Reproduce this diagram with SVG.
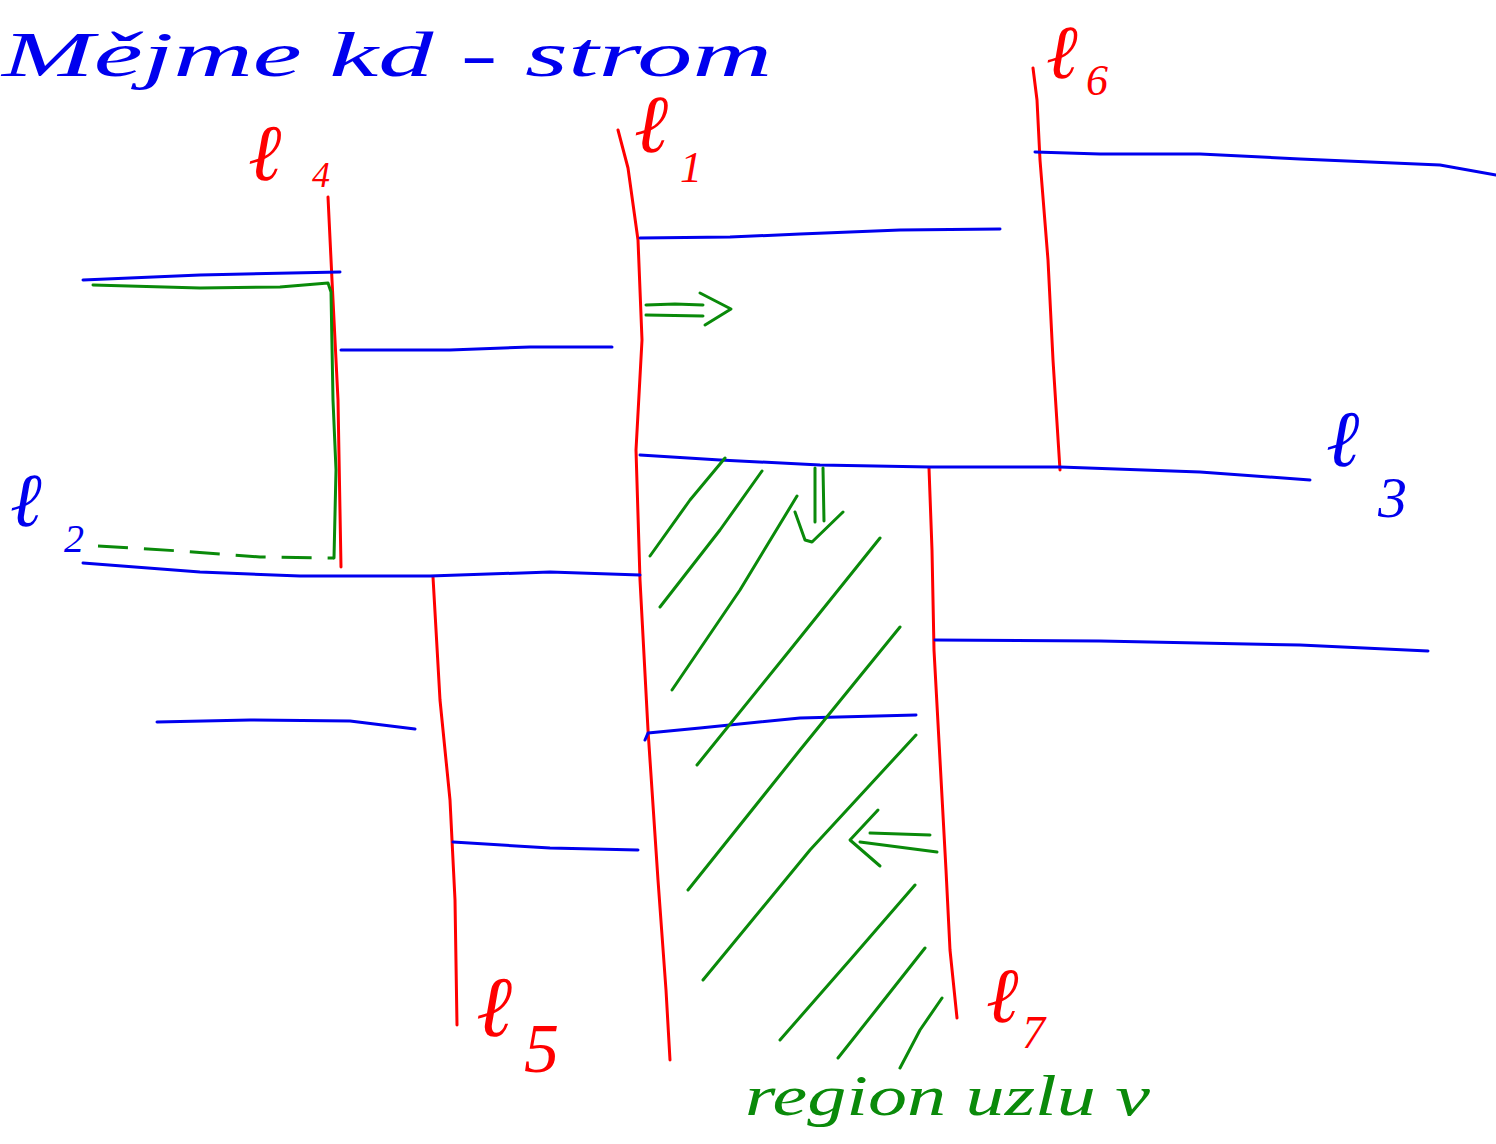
<svg xmlns="http://www.w3.org/2000/svg" width="1496" height="1144" viewBox="0 0 1496 1144">
<style>
.r{fill:none;stroke:#ff0000;stroke-width:3;stroke-linecap:round;stroke-linejoin:round}
.b{fill:none;stroke:#0000ee;stroke-width:3;stroke-linecap:round;stroke-linejoin:round}
.g{fill:none;stroke:#0a8a0a;stroke-width:3;stroke-linecap:round;stroke-linejoin:round}
.gd{fill:none;stroke:#0a8a0a;stroke-width:3;stroke-dasharray:30 16}
.t{font-family:"Liberation Serif",serif;font-style:italic}
.tr{fill:#ff0000}.tb{fill:#0000ee}.tg{fill:#0a8a0a}
</style>
<rect width="1496" height="1144" fill="#ffffff"/>
<g id="title"><text class="t tb" x="2" y="76" font-size="64" textLength="770" lengthAdjust="spacingAndGlyphs">Mějme  kd - strom</text></g>
<g id="splits-red">
<path id="l4" class="r" d="M328,197 L332,280 L338,400 L341,567"/>
<path id="l1" class="r" d="M618,130 L628,168 L638,240 L642,340 L636,450 L640,580 L648,730 L658,880 L666,990 L670,1060"/>
<path id="l6" class="r" d="M1033,68 L1037,100 L1040,160 L1048,260 L1053,360 L1060,470"/>
<path id="l5" class="r" d="M433,577 L440,700 L450,800 L455,900 L457,1025"/>
<path id="l7" class="r" d="M929,468 L932,550 L934,650 L940,760 L946,870 L950,950 L957,1018"/>
</g>
<g id="splits-blue">
<path class="b" d="M1035,152 L1100,154 L1200,154 L1300,159 L1440,165 L1496,175"/>
<path class="b" d="M640,238 L730,237 L800,234 L900,230 L1000,229"/>
<path class="b" d="M83,280 L200,275 L340,272"/>
<path class="b" d="M341,350 L450,350 L530,347 L612,347"/>
<path id="l3" class="b" d="M640,455 L720,460 L820,465 L930,467 L1060,467 L1200,472 L1310,480"/>
<path id="l2" class="b" d="M83,563 L200,572 L300,576 L430,576 L550,572 L640,575"/>
<path class="b" d="M935,640 L1100,641 L1300,645 L1428,651"/>
<path class="b" d="M157,722 L250,720 L350,721 L415,729"/>
<path class="b" d="M645,740 L648,733 L700,728 L800,718 L916,715"/>
<path class="b" d="M453,842 L550,848 L638,850"/>
</g>
<g id="green-marks">
<path class="g" d="M93,285 L200,288 L280,287 L328,283 L331,292 L333,400 L336,470 L334,558"/>
<path class="gd" d="M98,546 L180,551 L260,557 L334,558"/>
<path class="g" d="M646,305 L675,304 L703,305 M646,315 L703,316 M700,293 L731,309 L705,325"/>
<path class="g" d="M815,468 L815,522 M823,468 L824,521 M795,512 L805,540 L812,542 L843,512"/>
<path class="g" d="M870,833 L930,835 M860,842 L937,852 M878,810 L850,840 L880,866"/>
<path class="g" d="M650,556 L690,500 L725,458"/>
<path class="g" d="M660,607 L720,530 L762,471"/>
<path class="g" d="M672,690 L740,590 L797,496"/>
<path class="g" d="M697,765 L790,650 L880,538"/>
<path class="g" d="M688,890 L800,750 L900,627"/>
<path class="g" d="M703,980 L810,850 L916,735"/>
<path class="g" d="M780,1040 L850,960 L915,885"/>
<path class="g" d="M838,1058 L880,1005 L925,948"/>
<path class="g" d="M900,1068 L920,1030 L942,998"/>
</g>
<g id="labels">
<text class="t tr" x="248" y="180" font-size="80">ℓ</text><text class="t tr" x="312" y="187" font-size="36">4</text>
<text class="t tr" x="634" y="152" font-size="82">ℓ</text><text class="t tr" x="680" y="182" font-size="44">1</text>
<text class="t tr" x="1046" y="78" font-size="76">ℓ</text><text class="t tr" x="1086" y="95" font-size="44">6</text>
<text class="t tb" x="10" y="526" font-size="76">ℓ</text><text class="t tb" x="64" y="552" font-size="40">2</text>
<text class="t tb" x="1326" y="466" font-size="80">ℓ</text><text class="t tb" x="1378" y="517" font-size="58">3</text>
<text class="t tr" x="476" y="1036" font-size="86">ℓ</text><text class="t tr" x="524" y="1072" font-size="70">5</text>
<text class="t tr" x="986" y="1022" font-size="78">ℓ</text><text class="t tr" x="1022" y="1048" font-size="46">7</text>
</g>
<g id="caption"><text class="t tg" x="745" y="1115" font-size="56" textLength="405" lengthAdjust="spacingAndGlyphs">region uzlu v</text></g>
</svg>
